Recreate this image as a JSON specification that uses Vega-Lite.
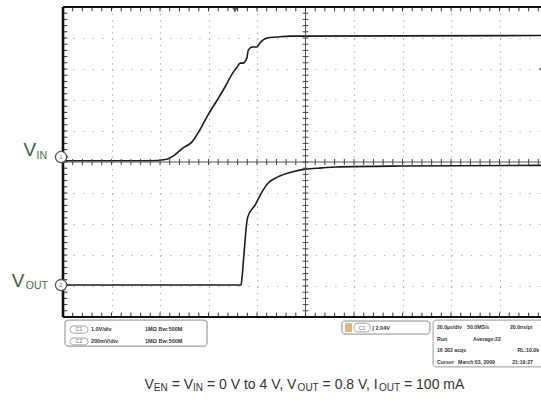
{
  "$schema": "https://vega.github.io/schema/vega-lite/v6.json",
  "width": 478,
  "height": 310,
  "autosize": {"type": "none"},
  "padding": {"left": 63, "top": 7, "right": 0, "bottom": 89},
  "background": "white",
  "config": {
    "view": {"stroke": null},
    "axis": {"labels": false, "ticks": false, "domain": false, "titleOpacity": 0, "grid": true, "gridColor": "#b8b8b8", "gridWidth": 1.2},
    "axisX": {"gridDash": [1.5, 4.7]},
    "axisY": {"gridDash": [1.5, 8.2]},
    "text": {"font": "Liberation Sans"}
  },
  "datasets": {
    "traces": [
      {"s": "VIN", "t": 0, "v": 0.04},
      {"s": "VIN", "t": 35.8, "v": 0.04},
      {"s": "VIN", "t": 42.8, "v": 0.09},
      {"s": "VIN", "t": 45.4, "v": 0.19},
      {"s": "VIN", "t": 49.4, "v": 0.45},
      {"s": "VIN", "t": 53.2, "v": 0.65},
      {"s": "VIN", "t": 56.4, "v": 1.03},
      {"s": "VIN", "t": 59.8, "v": 1.52},
      {"s": "VIN", "t": 63.6, "v": 2.0},
      {"s": "VIN", "t": 66.8, "v": 2.42},
      {"s": "VIN", "t": 70.2, "v": 2.9},
      {"s": "VIN", "t": 71.8, "v": 3.06},
      {"s": "VIN", "t": 73.0, "v": 3.19},
      {"s": "VIN", "t": 74.2, "v": 3.19},
      {"s": "VIN", "t": 75.8, "v": 3.35},
      {"s": "VIN", "t": 76.4, "v": 3.61},
      {"s": "VIN", "t": 78.0, "v": 3.71},
      {"s": "VIN", "t": 80.0, "v": 3.71},
      {"s": "VIN", "t": 81.2, "v": 3.84},
      {"s": "VIN", "t": 84.2, "v": 4.0},
      {"s": "VIN", "t": 88.2, "v": 4.03},
      {"s": "VIN", "t": 93.6, "v": 4.06},
      {"s": "VIN", "t": 197.1, "v": 4.08},
      {"s": "VOUT", "t": 0, "v": -3.97},
      {"s": "VOUT", "t": 73.4, "v": -3.97},
      {"s": "VOUT", "t": 73.8, "v": -3.74},
      {"s": "VOUT", "t": 74.6, "v": -3.0},
      {"s": "VOUT", "t": 75.8, "v": -1.94},
      {"s": "VOUT", "t": 76.2, "v": -1.77},
      {"s": "VOUT", "t": 79.2, "v": -1.39},
      {"s": "VOUT", "t": 82.0, "v": -0.97},
      {"s": "VOUT", "t": 84.6, "v": -0.68},
      {"s": "VOUT", "t": 88.6, "v": -0.48},
      {"s": "VOUT", "t": 94.4, "v": -0.32},
      {"s": "VOUT", "t": 99.8, "v": -0.23},
      {"s": "VOUT", "t": 106.8, "v": -0.19},
      {"s": "VOUT", "t": 112.2, "v": -0.16},
      {"s": "VOUT", "t": 140, "v": -0.13},
      {"s": "VOUT", "t": 197.1, "v": -0.11}
    ],
    "xt": [
      {"p": 0}, {"p": 4}, {"p": 8}, {"p": 12}, {"p": 16}, {"p": 20}, {"p": 24}, {"p": 28}, {"p": 32}, {"p": 36},
      {"p": 40}, {"p": 44}, {"p": 48}, {"p": 52}, {"p": 56}, {"p": 60}, {"p": 64}, {"p": 68}, {"p": 72}, {"p": 76},
      {"p": 80}, {"p": 84}, {"p": 88}, {"p": 92}, {"p": 96}, {"p": 100}, {"p": 104}, {"p": 108}, {"p": 112}, {"p": 116},
      {"p": 120}, {"p": 124}, {"p": 128}, {"p": 132}, {"p": 136}, {"p": 140}, {"p": 144}, {"p": 148}, {"p": 152}, {"p": 156},
      {"p": 160}, {"p": 164}, {"p": 168}, {"p": 172}, {"p": 176}, {"p": 180}, {"p": 184}, {"p": 188}, {"p": 192}, {"p": 196}
    ],
    "yt": [
      {"p": -5}, {"p": -4.8}, {"p": -4.6}, {"p": -4.4}, {"p": -4.2}, {"p": -4}, {"p": -3.8}, {"p": -3.6}, {"p": -3.4}, {"p": -3.2},
      {"p": -3}, {"p": -2.8}, {"p": -2.6}, {"p": -2.4}, {"p": -2.2}, {"p": -2}, {"p": -1.8}, {"p": -1.6}, {"p": -1.4}, {"p": -1.2},
      {"p": -1}, {"p": -0.8}, {"p": -0.6}, {"p": -0.4}, {"p": -0.2}, {"p": 0}, {"p": 0.2}, {"p": 0.4}, {"p": 0.6}, {"p": 0.8},
      {"p": 1}, {"p": 1.2}, {"p": 1.4}, {"p": 1.6}, {"p": 1.8}, {"p": 2}, {"p": 2.2}, {"p": 2.4}, {"p": 2.6}, {"p": 2.8},
      {"p": 3}, {"p": 3.2}, {"p": 3.4}, {"p": 3.6}, {"p": 3.8}, {"p": 4}, {"p": 4.2}, {"p": 4.4}, {"p": 4.6}, {"p": 4.8}, {"p": 5}
    ],
    "ch": [
      {"ch": "1", "lvl": 0.16},
      {"ch": "2", "lvl": -3.97}
    ],
    "one": [{}]
  },
  "layer": [
    {
      "data": {"name": "traces"},
      "mark": {"type": "line", "color": "#1c1c1c", "strokeWidth": 1.6, "interpolate": "monotone", "clip": true},
      "encoding": {
        "x": {"field": "t", "type": "quantitative", "title": null,
              "scale": {"domain": [0, 197.1], "nice": false, "zero": false},
              "axis": {"values": [20, 40, 60, 80, 120, 140, 160, 180], "grid": true, "labels": false, "ticks": false, "domain": false, "title": null}},
        "y": {"field": "v", "type": "quantitative", "title": null,
              "scale": {"domain": [-5, 5], "nice": false, "zero": false},
              "axis": {"values": [-4, -3, -2, -1, 1, 2, 3, 4], "grid": true, "labels": false, "ticks": false, "domain": false, "title": null}},
        "detail": {"field": "s"}
      }
    },
    {"data": {"name": "one"}, "mark": {"type": "rule", "color": "#555", "strokeWidth": 1}, "encoding": {"y": {"datum": 0}}},
    {"data": {"name": "one"}, "mark": {"type": "rule", "color": "#555", "strokeWidth": 1}, "encoding": {"x": {"datum": 100}}},
    {"data": {"name": "xt"}, "mark": {"type": "rule", "color": "#333", "strokeWidth": 1},
     "encoding": {"x": {"field": "p", "type": "quantitative", "title": null}, "y": {"datum": 5}, "y2": {"datum": 4.86}}},
    {"data": {"name": "xt"}, "mark": {"type": "rule", "color": "#333", "strokeWidth": 1},
     "encoding": {"x": {"field": "p", "type": "quantitative", "title": null}, "y": {"datum": -5}, "y2": {"datum": -4.86}}},
    {"data": {"name": "xt"}, "mark": {"type": "rule", "color": "#444", "strokeWidth": 1},
     "encoding": {"x": {"field": "p", "type": "quantitative", "title": null}, "y": {"datum": 0.1}, "y2": {"datum": -0.1}}},
    {"data": {"name": "yt"}, "mark": {"type": "rule", "color": "#333", "strokeWidth": 1},
     "encoding": {"y": {"field": "p", "type": "quantitative", "title": null}, "x": {"datum": 0}, "x2": {"datum": 1.8}}},
    {"data": {"name": "yt"}, "mark": {"type": "rule", "color": "#444", "strokeWidth": 1},
     "encoding": {"y": {"field": "p", "type": "quantitative", "title": null}, "x": {"datum": 98.8}, "x2": {"datum": 101.2}}},
    {"data": {"name": "one"}, "mark": {"type": "rule", "color": "#111", "strokeWidth": 2.6}, "encoding": {"x": {"datum": 0}}},
    {"data": {"name": "one"}, "mark": {"type": "rule", "color": "#111", "strokeWidth": 2}, "encoding": {"y": {"datum": 5}}},
    {"data": {"name": "one"}, "mark": {"type": "rule", "color": "#111", "strokeWidth": 2}, "encoding": {"y": {"datum": -5}}},
    {"data": {"name": "one"}, "mark": {"type": "point", "shape": "triangle-down", "filled": true, "color": "#111", "size": 30},
     "encoding": {"x": {"datum": 70.9}, "y": {"datum": 4.9}}},
    {"data": {"name": "one"}, "mark": {"type": "point", "shape": "triangle-left", "filled": true, "color": "#111", "size": 30},
     "encoding": {"x": {"datum": 197.1}, "y": {"datum": 3.0}}},
    {"data": {"name": "ch"}, "mark": {"type": "point", "shape": "triangle-right", "filled": true, "color": "#111", "size": 20},
     "encoding": {"x": {"datum": 1.6}, "y": {"field": "lvl", "type": "quantitative", "title": null}}},
    {"data": {"name": "ch"}, "mark": {"type": "point", "shape": "circle", "filled": true, "fill": "white", "stroke": "#555", "strokeWidth": 1.3, "size": 125, "opacity": 1},
     "encoding": {"x": {"datum": -0.82}, "y": {"field": "lvl", "type": "quantitative", "title": null}}},
    {"data": {"name": "ch"}, "mark": {"type": "text", "fontSize": 6, "color": "#777", "align": "center", "baseline": "middle"},
     "encoding": {"x": {"datum": -0.82}, "y": {"field": "lvl", "type": "quantitative", "title": null}, "text": {"field": "ch"}}},
    {"data": {"name": "one"}, "mark": {"type": "text", "text": "V", "fontSize": 19, "color": "#3d5c45", "align": "right", "baseline": "alphabetic"},
     "encoding": {"x": {"datum": -11.1}, "y": {"datum": 0.19}}},
    {"data": {"name": "one"}, "mark": {"type": "text", "text": "IN", "fontSize": 10.5, "color": "#3d6b48", "align": "right", "baseline": "alphabetic"},
     "encoding": {"x": {"datum": -6.6}, "y": {"datum": 0.097}}},
    {"data": {"name": "one"}, "mark": {"type": "text", "text": "V", "fontSize": 19, "color": "#3d5c45", "align": "right", "baseline": "alphabetic"},
     "encoding": {"x": {"datum": -15.9}, "y": {"datum": -4.03}}},
    {"data": {"name": "one"}, "mark": {"type": "text", "text": "OUT", "fontSize": 10.5, "color": "#3d6b48", "align": "right", "baseline": "alphabetic"},
     "encoding": {"x": {"datum": -6.2}, "y": {"datum": -4.1}}},
    {"data": {"name": "one"}, "mark": {"type": "rect", "fill": "white", "stroke": "#8a8a8a", "strokeWidth": 1, "cornerRadius": 3},
     "encoding": {"x": {"datum": 0.82}, "x2": {"datum": 59.4}, "y": {"datum": -5.1}, "y2": {"datum": -5.94}}},
    {"data": {"name": "one"}, "mark": {"type": "rect", "fill": "white", "stroke": "#888", "strokeWidth": 0.8, "cornerRadius": 3.5},
     "encoding": {"x": {"datum": 2.9}, "x2": {"datum": 10.3}, "y": {"datum": -5.29}, "y2": {"datum": -5.52}}},
    {"data": {"name": "one"}, "mark": {"type": "rect", "fill": "white", "stroke": "#888", "strokeWidth": 0.8, "cornerRadius": 3.5},
     "encoding": {"x": {"datum": 2.9}, "x2": {"datum": 10.3}, "y": {"datum": -5.68}, "y2": {"datum": -5.9}}},
    {"data": {"name": "one"}, "mark": {"type": "text", "text": ["C1", "C2"], "lineHeight": 12, "fontSize": 5, "color": "#666", "align": "center", "baseline": "alphabetic"},
     "encoding": {"x": {"datum": 6.6}, "y": {"datum": -5.45}}},
    {"data": {"name": "one"}, "mark": {"type": "text", "text": ["1.0V/div", "200mV/div"], "lineHeight": 12, "fontSize": 5.5, "fontWeight": "bold", "color": "#333", "align": "left", "baseline": "alphabetic"},
     "encoding": {"x": {"datum": 11.5}, "y": {"datum": -5.45}}},
    {"data": {"name": "one"}, "mark": {"type": "text", "text": ["1MΩ  Bw:500M", "1MΩ  Bw:500M"], "lineHeight": 12, "fontSize": 5.5, "fontWeight": "bold", "color": "#333", "align": "left", "baseline": "alphabetic"},
     "encoding": {"x": {"datum": 33.8}, "y": {"datum": -5.45}}},
    {"data": {"name": "one"}, "mark": {"type": "rect", "fill": "white", "stroke": "#8a8a8a", "strokeWidth": 1, "cornerRadius": 3},
     "encoding": {"x": {"datum": 115.0}, "x2": {"datum": 151.3}, "y": {"datum": -5.13}, "y2": {"datum": -5.55}}},
    {"data": {"name": "one"}, "mark": {"type": "rect", "fill": "#dcb878"},
     "encoding": {"x": {"datum": 116.3}, "x2": {"datum": 119.2}, "y": {"datum": -5.2}, "y2": {"datum": -5.48}}},
    {"data": {"name": "one"}, "mark": {"type": "rect", "fill": "white", "stroke": "#888", "strokeWidth": 0.8, "cornerRadius": 3.5},
     "encoding": {"x": {"datum": 120.0}, "x2": {"datum": 126.6}, "y": {"datum": -5.2}, "y2": {"datum": -5.48}}},
    {"data": {"name": "one"}, "mark": {"type": "text", "text": "C1", "fontSize": 5, "color": "#666", "align": "center", "baseline": "alphabetic"},
     "encoding": {"x": {"datum": 123.3}, "y": {"datum": -5.42}}},
    {"data": {"name": "one"}, "mark": {"type": "text", "text": "∫ 2.04V", "fontSize": 5.5, "fontWeight": "bold", "color": "#333", "align": "left", "baseline": "alphabetic"},
     "encoding": {"x": {"datum": 127.6}, "y": {"datum": -5.42}}},
    {"data": {"name": "one"}, "mark": {"type": "rect", "fill": "white", "stroke": "#999", "strokeWidth": 1, "cornerRadius": 3},
     "encoding": {"x": {"datum": 152.6}, "x2": {"datum": 205}, "y": {"datum": -5.1}, "y2": {"datum": -6.61}}},
    {"data": {"name": "one"}, "mark": {"type": "text", "text": ["20.0µs/div", "Run", "16 302 acqs", "Cursor"], "lineHeight": 11.7, "fontSize": 5.2, "fontWeight": "bold", "color": "#333", "align": "left", "baseline": "alphabetic"},
     "encoding": {"x": {"datum": 154.2}, "y": {"datum": -5.39}}},
    {"data": {"name": "one"}, "mark": {"type": "text", "text": "50.0MS/s", "fontSize": 5.2, "fontWeight": "bold", "color": "#333", "align": "left", "baseline": "alphabetic"},
     "encoding": {"x": {"datum": 166.6}, "y": {"datum": -5.39}}},
    {"data": {"name": "one"}, "mark": {"type": "text", "text": "20.0ns/pt", "fontSize": 5.2, "fontWeight": "bold", "color": "#333", "align": "left", "baseline": "alphabetic"},
     "encoding": {"x": {"datum": 184.3}, "y": {"datum": -5.39}}},
    {"data": {"name": "one"}, "mark": {"type": "text", "text": "Average:22", "fontSize": 5.2, "fontWeight": "bold", "color": "#333", "align": "left", "baseline": "alphabetic"},
     "encoding": {"x": {"datum": 169.1}, "y": {"datum": -5.77}}},
    {"data": {"name": "one"}, "mark": {"type": "text", "text": "RL:10.0k", "fontSize": 5.2, "fontWeight": "bold", "color": "#333", "align": "left", "baseline": "alphabetic"},
     "encoding": {"x": {"datum": 187.4}, "y": {"datum": -6.13}}},
    {"data": {"name": "one"}, "mark": {"type": "text", "text": "March 03, 2009", "fontSize": 5.2, "fontWeight": "bold", "color": "#333", "align": "left", "baseline": "alphabetic"},
     "encoding": {"x": {"datum": 162.9}, "y": {"datum": -6.52}}},
    {"data": {"name": "one"}, "mark": {"type": "text", "text": "21:19:27", "fontSize": 5.2, "fontWeight": "bold", "color": "#333", "align": "left", "baseline": "alphabetic"},
     "encoding": {"x": {"datum": 185.2}, "y": {"datum": -6.52}}},
    {"data": {"name": "one"}, "mark": {"type": "text", "text": "V", "fontSize": 14, "color": "#333", "align": "left", "baseline": "alphabetic", "dx": 0},
     "encoding": {"x": {"datum": 33.61}, "y": {"datum": -7.32}}},
    {"data": {"name": "one"}, "mark": {"type": "text", "text": "EN", "fontSize": 10, "color": "#333", "align": "left", "baseline": "alphabetic", "dx": 9.34, "dy": 2.5},
     "encoding": {"x": {"datum": 33.61}, "y": {"datum": -7.32}}},
    {"data": {"name": "one"}, "mark": {"type": "text", "text": "= V", "fontSize": 14, "color": "#333", "align": "left", "baseline": "alphabetic", "dx": 27.12},
     "encoding": {"x": {"datum": 33.61}, "y": {"datum": -7.32}}},
    {"data": {"name": "one"}, "mark": {"type": "text", "text": "IN", "fontSize": 10, "color": "#333", "align": "left", "baseline": "alphabetic", "dx": 48.53, "dy": 2.5},
     "encoding": {"x": {"datum": 33.61}, "y": {"datum": -7.32}}},
    {"data": {"name": "one"}, "mark": {"type": "text", "text": "= 0 V to 4 V, V", "fontSize": 14, "color": "#333", "align": "left", "baseline": "alphabetic", "dx": 62.42},
     "encoding": {"x": {"datum": 33.61}, "y": {"datum": -7.32}}},
    {"data": {"name": "one"}, "mark": {"type": "text", "text": "OUT", "fontSize": 10, "color": "#333", "align": "left", "baseline": "alphabetic", "dx": 153.1, "dy": 2.5},
     "encoding": {"x": {"datum": 33.61}, "y": {"datum": -7.32}}},
    {"data": {"name": "one"}, "mark": {"type": "text", "text": "= 0.8 V, I", "fontSize": 14, "color": "#333", "align": "left", "baseline": "alphabetic", "dx": 178.1},
     "encoding": {"x": {"datum": 33.61}, "y": {"datum": -7.32}}},
    {"data": {"name": "one"}, "mark": {"type": "text", "text": "OUT", "fontSize": 10, "color": "#333", "align": "left", "baseline": "alphabetic", "dx": 234.5, "dy": 2.5},
     "encoding": {"x": {"datum": 33.61}, "y": {"datum": -7.32}}},
    {"data": {"name": "one"}, "mark": {"type": "text", "text": "= 100 mA", "fontSize": 14, "color": "#333", "align": "left", "baseline": "alphabetic", "dx": 259.5},
     "encoding": {"x": {"datum": 33.61}, "y": {"datum": -7.32}}}
  ]
}
